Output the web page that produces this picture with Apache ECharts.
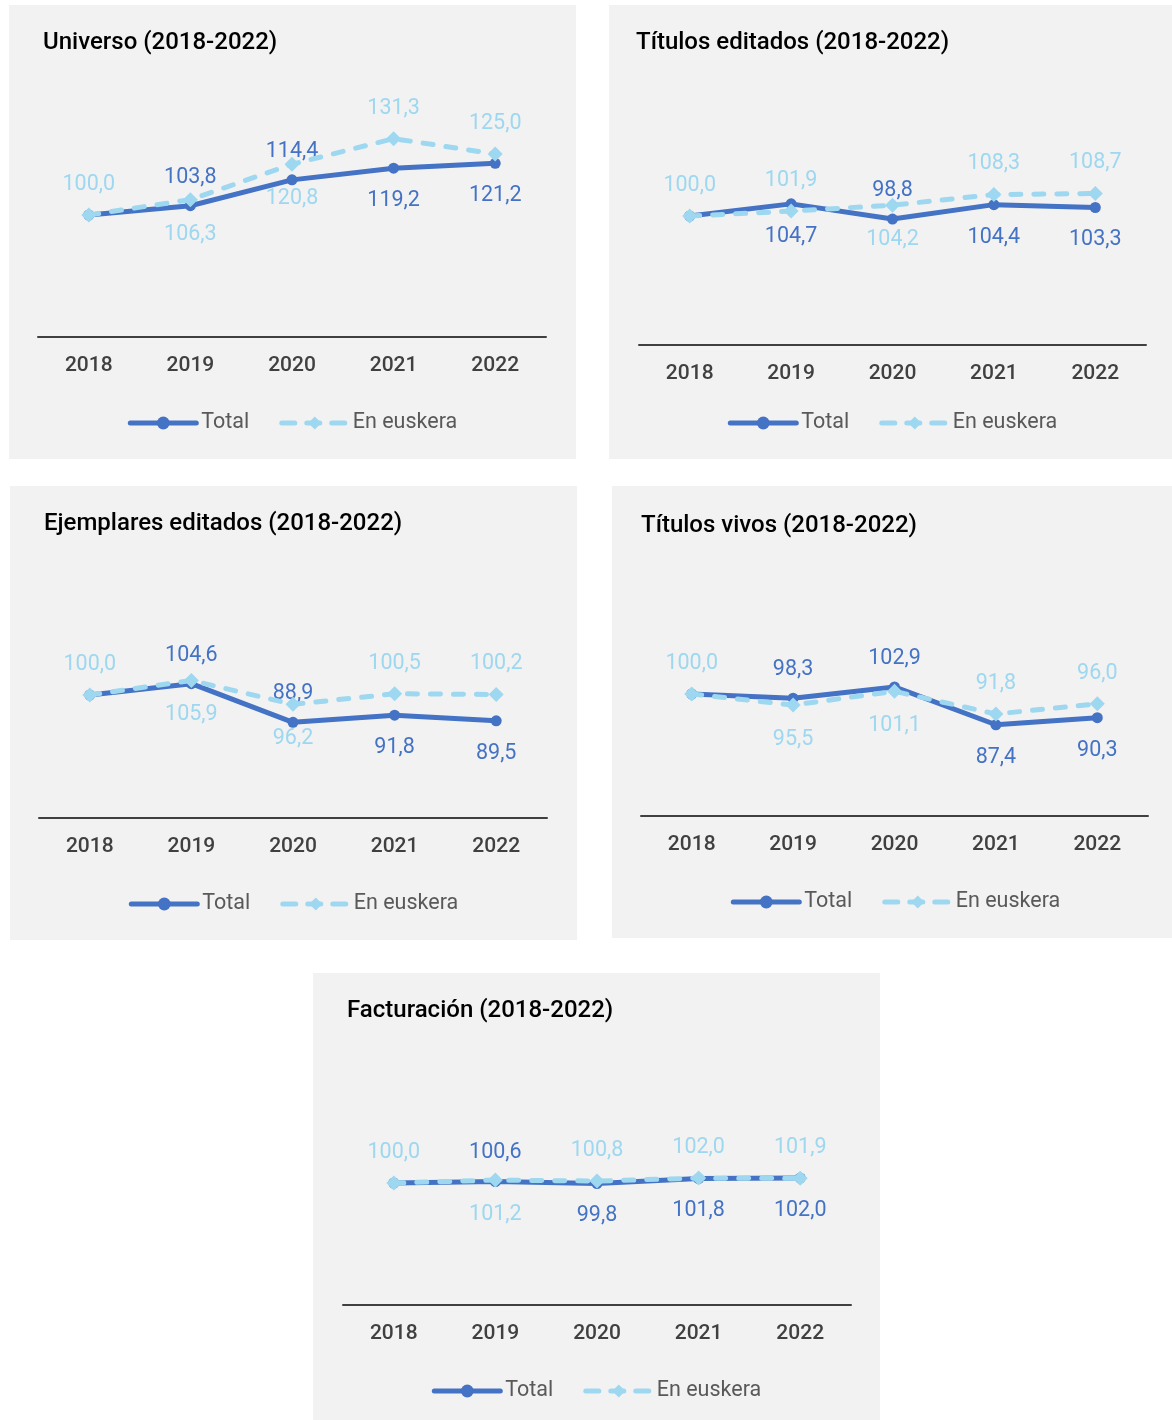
<!DOCTYPE html>
<html>
<head>
<meta charset="utf-8">
<script src="https://cdn.jsdelivr.net/npm/echarts@6/dist/echarts.min.js"></script>
<style>
  html, body { margin: 0; padding: 0; background: #ffffff; width: 1172px; height: 1420px; overflow: hidden; position: relative; }
  .panel { position: absolute; }
</style>
</head>
<body>
<div id="c1" class="panel" style="left:9px;top:5px;width:567px;height:454px;"></div>
<div id="c2" class="panel" style="left:609px;top:5px;width:567px;height:454px;"></div>
<div id="c3" class="panel" style="left:10px;top:486px;width:567px;height:454px;"></div>
<div id="c4" class="panel" style="left:612px;top:486px;width:567px;height:452px;"></div>
<div id="c5" class="panel" style="left:313px;top:973px;width:567px;height:447px;"></div>
<script>
// ---- data ----
const years = ['2018', '2019', '2020', '2021', '2022'];
const seriesNames = ['Total', 'En euskera'];

const titleUniverso = 'Universo (2018-2022)';
const universoTotal = [100.0, 103.8, 114.4, 119.2, 121.2];
const universoEuskera = [100.0, 106.3, 120.8, 131.3, 125.0];

const titleTitulosEditados = 'Títulos editados (2018-2022)';
const titulosEditadosTotal = [100.0, 104.7, 98.8, 104.4, 103.3];
const titulosEditadosEuskera = [100.0, 101.9, 104.2, 108.3, 108.7];

const titleEjemplares = 'Ejemplares editados (2018-2022)';
const ejemplaresTotal = [100.0, 104.6, 88.9, 91.8, 89.5];
const ejemplaresEuskera = [100.0, 105.9, 96.2, 100.5, 100.2];

const titleTitulosVivos = 'Títulos vivos (2018-2022)';
const titulosVivosTotal = [100.0, 98.3, 102.9, 87.4, 90.3];
const titulosVivosEuskera = [100.0, 95.5, 101.1, 91.8, 96.0];

const titleFacturacion = 'Facturación (2018-2022)';
const facturacionTotal = [100.0, 100.6, 99.8, 101.8, 102.0];
const facturacionEuskera = [100.0, 101.2, 100.8, 102.0, 101.9];

// ---- label placement (style); null = label hidden under the other series' label ----
const T = 'top', B = 'bottom', N = null;
const posUniverso = { total: [N, T, T, B, B], eusk: [T, B, B, T, T] };
const posTitulosEditados = { total: [N, B, T, B, B], eusk: [T, T, B, T, T] };
const posEjemplares = { total: [N, T, T, B, B], eusk: [T, B, B, T, T] };
const posTitulosVivos = { total: [N, T, T, B, B], eusk: [T, B, B, T, T] };
const posFacturacion = { total: [N, T, B, B, B], eusk: [T, B, T, T, T] };

// ---- styles ----
const DARK = '#4472C4';
const LIGHT = '#9DD7F0';
const FONT = 'Roboto';
const DASH = [10, 13];
const LEGEND_DASH = [13, 12];

function fmt(v) { return v.toFixed(1).replace('.', ','); }

function build(title, total, eusk, pos, layout) {
  function mk(vals, posArr) {
    return vals.map((v, i) => ({
      value: v,
      label: posArr[i] ? { position: posArr[i] } : { show: false }
    }));
  }
  const labelBase = (color) => ({
    show: true, distance: 14, offset: [0, 2], fontFamily: FONT, fontSize: 21.5, color: color,
    formatter: (p) => fmt(p.value)
  });
  return {
    backgroundColor: '#F2F2F2',
    animation: false,
    textStyle: { fontFamily: FONT },
    title: {
      text: title, left: layout.titleLeft, top: layout.titleTop,
      textStyle: { fontFamily: FONT, fontSize: 24, fontWeight: 500, color: '#000000' }
    },
    grid: { left: layout.gl, right: layout.gr, top: layout.gt, bottom: layout.gb, containLabel: false },
    legend: {
      top: layout.legendTop, left: 'center',
      itemWidth: 66, itemHeight: 16, itemGap: 30,
      textStyle: { fontFamily: FONT, fontSize: 21.5, color: '#595959' },
      data: [
        { name: seriesNames[0], lineStyle: { width: 5, color: DARK, cap: 'round' } },
        { name: seriesNames[1], lineStyle: { width: 5, color: LIGHT, type: LEGEND_DASH, cap: 'round' } }
      ]
    },
    xAxis: {
      type: 'category', data: years, boundaryGap: true,
      axisLine: { show: true, lineStyle: { color: '#404040', width: 2 } },
      axisTick: { show: false },
      axisLabel: { fontFamily: FONT, fontSize: 21, fontWeight: 500, color: '#404040', margin: 18 }
    },
    yAxis: {
      type: 'value', min: 50, max: 150, show: false,
      splitLine: { show: false }
    },
    series: [
      {
        name: seriesNames[0], type: 'line', data: mk(total, pos.total),
        symbol: 'circle', symbolSize: 11, z: 2,
        lineStyle: { color: DARK, width: 5 },
        itemStyle: { color: DARK },
        label: labelBase(DARK)
      },
      {
        name: seriesNames[1], type: 'line', data: mk(eusk, pos.eusk),
        symbol: 'diamond', symbolSize: 15, z: 3,
        lineStyle: { color: LIGHT, width: 5, type: DASH, cap: 'round' },
        itemStyle: { color: LIGHT },
        label: labelBase(LIGHT)
      }
    ]
  };
}

const charts = [
  ['c1', titleUniverso, universoTotal, universoEuskera, posUniverso,
    { titleLeft: 29, titleTop: 21, gl: 29, gr: 30, gt: 88, gb: 122, legendTop: 402 }],
  ['c2', titleTitulosEditados, titulosEditadosTotal, titulosEditadosEuskera, posTitulosEditados,
    { titleLeft: 22, titleTop: 21, gl: 30, gr: 30, gt: 82, gb: 114, legendTop: 402 }],
  ['c3', titleEjemplares, ejemplaresTotal, ejemplaresEuskera, posEjemplares,
    { titleLeft: 29, titleTop: 21, gl: 29, gr: 30, gt: 86, gb: 122, legendTop: 402 }],
  ['c4', titleTitulosVivos, titulosVivosTotal, titulosVivosEuskera, posTitulosVivos,
    { titleLeft: 24, titleTop: 23, gl: 29, gr: 31, gt: 86, gb: 122, legendTop: 400 }],
  ['c5', titleFacturacion, facturacionTotal, facturacionEuskera, posFacturacion,
    { titleLeft: 29, titleTop: 21, gl: 30, gr: 29, gt: 88, gb: 115, legendTop: 402 }]
];

charts.forEach(([id, title, tot, eus, pos, layout]) => {
  const c = echarts.init(document.getElementById(id), null, { renderer: 'canvas' });
  c.setOption(build(title, tot, eus, pos, layout));
});
</script>
</body>
</html>
